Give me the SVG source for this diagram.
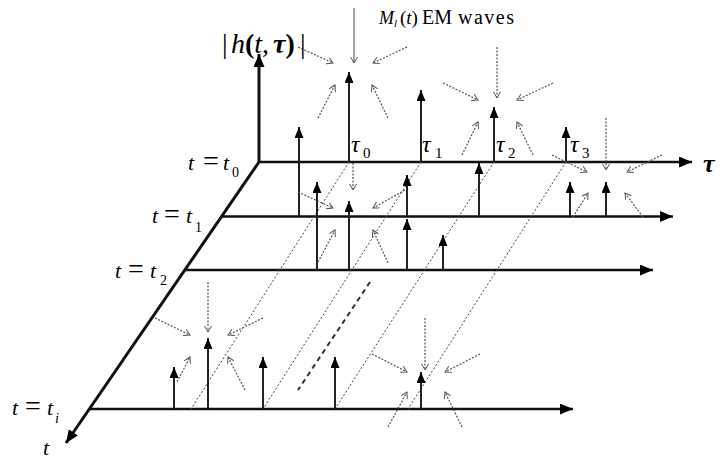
<svg xmlns="http://www.w3.org/2000/svg" width="720" height="460" viewBox="0 0 720 460">
<style>
.ax{stroke:#111;stroke-width:3;fill:none}
.pl{stroke:#111;stroke-width:2.5;fill:none}
.st{stroke:#222;stroke-width:2;fill:none}
.dg{stroke:#444;stroke-width:1;stroke-dasharray:2 2;fill:none}
.em{stroke:#555;stroke-width:1.2;stroke-dasharray:2 1.5;fill:none}
.ems{stroke:#555;stroke-width:1.1;fill:none}
.dash{stroke:#333;stroke-width:2;stroke-dasharray:5 4;fill:none}
text{font-family:"Liberation Serif","Times New Roman",serif;fill:#000}
.it{font-style:italic}
</style>
<defs>
<marker id="head" markerUnits="userSpaceOnUse" markerWidth="12" markerHeight="10" refX="11" refY="4.5" orient="auto"><path d="M0,0 L11,4.5 L0,9 z" fill="#000"/></marker>
<marker id="big" markerUnits="userSpaceOnUse" markerWidth="14" markerHeight="12" refX="13" refY="5.5" orient="auto"><path d="M0,0 L13,5.5 L0,11 z" fill="#000"/></marker>
<marker id="open" markerUnits="userSpaceOnUse" markerWidth="8" markerHeight="8" refX="6" refY="3.5" orient="auto"><path d="M0,0 L6,3.5 L0,7" fill="none" stroke="#555" stroke-width="1"/></marker>
</defs>
<rect width="720" height="460" fill="#fff"/>

<g id="axes">
<line class="ax" x1="259" y1="163" x2="259" y2="54" marker-end="url(#big)"/>
<line class="ax" x1="259" y1="162" x2="66" y2="443" marker-end="url(#big)"/>
<line class="pl" x1="258" y1="162" x2="692" y2="162" marker-end="url(#big)"/>
<line class="pl" x1="221" y1="216.5" x2="673" y2="216.5" marker-end="url(#big)"/>
<line class="pl" x1="185" y1="270" x2="653" y2="270" marker-end="url(#big)"/>
<line class="pl" x1="90" y1="409" x2="573" y2="409" marker-end="url(#big)"/>
</g>

<g id="delay-lines">
<line class="dg" x1="349" y1="162" x2="191" y2="409"/>
<line class="dg" x1="421" y1="162" x2="263" y2="409"/>
<line class="dg" x1="494" y1="162" x2="335" y2="409"/>
<line class="dg" x1="566" y1="162" x2="408" y2="409"/>
<line class="dash" x1="370" y1="282" x2="298" y2="390"/>
</g>

<g id="stems">
<line class="st" x1="349" y1="162" x2="349" y2="72" marker-end="url(#head)"/>
<line class="st" x1="421" y1="162" x2="421" y2="90" marker-end="url(#head)"/>
<line class="st" x1="494" y1="162" x2="494" y2="107" marker-end="url(#head)"/>
<line class="st" x1="566" y1="162" x2="566" y2="127" marker-end="url(#head)"/>
<line class="st" x1="299" y1="216" x2="299" y2="127" marker-end="url(#head)"/>
<line class="st" x1="479" y1="216" x2="479" y2="163" marker-end="url(#head)"/>
<line class="st" x1="407" y1="216" x2="407" y2="175" marker-end="url(#head)"/>
<line class="st" x1="570" y1="216" x2="570" y2="182" marker-end="url(#head)"/>
<line class="st" x1="606" y1="216" x2="606" y2="182" marker-end="url(#head)"/>
<line class="st" x1="317" y1="270" x2="317" y2="182" marker-end="url(#head)"/>
<line class="st" x1="349" y1="270" x2="349" y2="201" marker-end="url(#head)"/>
<line class="st" x1="407" y1="270" x2="407" y2="219" marker-end="url(#head)"/>
<line class="st" x1="443" y1="270" x2="443" y2="235" marker-end="url(#head)"/>
<line class="st" x1="174" y1="409" x2="174" y2="367" marker-end="url(#head)"/>
<line class="st" x1="208" y1="409" x2="208" y2="338" marker-end="url(#head)"/>
<line class="st" x1="263" y1="409" x2="263" y2="357" marker-end="url(#head)"/>
<line class="st" x1="335" y1="409" x2="335" y2="357" marker-end="url(#head)"/>
<line class="st" x1="421" y1="409" x2="421" y2="372" marker-end="url(#head)"/>
</g>

<g id="waves-a">
<line class="ems" x1="354" y1="8" x2="354" y2="63" marker-end="url(#open)"/>
<line class="em" x1="298" y1="47" x2="333" y2="63" marker-end="url(#open)"/>
<line class="em" x1="407" y1="47" x2="373" y2="63" marker-end="url(#open)"/>
<line class="em" x1="318" y1="118" x2="335" y2="85" marker-end="url(#open)"/>
<line class="em" x1="388" y1="118" x2="372" y2="85" marker-end="url(#open)"/>
</g>
<g id="waves-b">
<line class="em" x1="497" y1="47" x2="497" y2="98" marker-end="url(#open)"/>
<line class="em" x1="443" y1="83" x2="478" y2="100" marker-end="url(#open)"/>
<line class="em" x1="553" y1="83" x2="517" y2="100" marker-end="url(#open)"/>
<line class="em" x1="462" y1="155" x2="478" y2="122" marker-end="url(#open)"/>
<line class="em" x1="533" y1="155" x2="517" y2="122" marker-end="url(#open)"/>
</g>
<g id="waves-c">
<line class="em" x1="606" y1="118" x2="606" y2="170" marker-end="url(#open)"/>
<line class="em" x1="552" y1="155" x2="587" y2="172" marker-end="url(#open)"/>
<line class="em" x1="662" y1="155" x2="627" y2="172" marker-end="url(#open)"/>
<line class="em" x1="573" y1="217" x2="588" y2="193" marker-end="url(#open)"/>
<line class="em" x1="643" y1="217" x2="625" y2="193" marker-end="url(#open)"/>
</g>
<g id="waves-d">
<line class="em" x1="353" y1="163" x2="353" y2="190" marker-end="url(#open)"/>
<line class="em" x1="298" y1="192" x2="333" y2="208" marker-end="url(#open)"/>
<line class="em" x1="405" y1="190" x2="373" y2="208" marker-end="url(#open)"/>
<line class="em" x1="318" y1="262" x2="335" y2="230" marker-end="url(#open)"/>
<line class="em" x1="388" y1="263" x2="373" y2="230" marker-end="url(#open)"/>
</g>
<g id="waves-e">
<line class="em" x1="208" y1="282" x2="208" y2="332" marker-end="url(#open)"/>
<line class="em" x1="155" y1="318" x2="190" y2="335" marker-end="url(#open)"/>
<line class="em" x1="263" y1="318" x2="228" y2="335" marker-end="url(#open)"/>
<line class="em" x1="177" y1="382" x2="190" y2="357" marker-end="url(#open)"/>
<line class="em" x1="245" y1="390" x2="228" y2="357" marker-end="url(#open)"/>
</g>
<g id="waves-f">
<line class="em" x1="425" y1="318" x2="425" y2="370" marker-end="url(#open)"/>
<line class="em" x1="372" y1="354" x2="407" y2="372" marker-end="url(#open)"/>
<line class="em" x1="480" y1="354" x2="445" y2="372" marker-end="url(#open)"/>
<line class="em" x1="388" y1="427" x2="407" y2="392" marker-end="url(#open)"/>
<line class="em" x1="462" y1="427" x2="445" y2="392" marker-end="url(#open)"/>
</g>

<g id="labels">
<text x="222" y="53" font-size="28">|<tspan x="231" class="it">h</tspan><tspan font-weight="bold">(</tspan><tspan class="it">t</tspan>,<tspan x="273" class="it" font-weight="bold">τ</tspan><tspan font-weight="bold">)</tspan><tspan x="300">|</tspan></text>
<text x="379" y="24" font-size="18" class="it">M</text>
<text x="394" y="27" font-size="11" class="it">l</text>
<text x="400" y="24" font-size="19">(<tspan class="it">t</tspan>)</text>
<text x="422" y="24" font-size="20">EM</text>
<text x="458" y="24" font-size="20" letter-spacing="1.5">waves</text>

<text x="351" y="152" font-size="24" class="it">τ</text><text x="363" y="158" font-size="15">0</text>
<text x="422" y="152" font-size="24" class="it">τ</text><text x="435" y="158" font-size="15">1</text>
<text x="496" y="152" font-size="24" class="it">τ</text><text x="508" y="158" font-size="15">2</text>
<text x="570" y="152" font-size="24" class="it">τ</text><text x="582" y="158" font-size="15">3</text>
<text x="703" y="172" font-size="26" class="it" font-weight="bold">τ</text>

<text y="170" font-size="22"><tspan x="188" class="it">t</tspan><tspan x="203" font-size="28">=</tspan><tspan x="223" class="it">t</tspan></text><text x="232" y="177" font-size="14">0</text>
<text y="223" font-size="22"><tspan x="152" class="it">t</tspan><tspan x="164" font-size="28">=</tspan><tspan x="186" class="it">t</tspan></text><text x="195" y="232" font-size="14">1</text>
<text y="278" font-size="22"><tspan x="115" class="it">t</tspan><tspan x="128" font-size="28">=</tspan><tspan x="150" class="it">t</tspan></text><text x="160" y="285" font-size="14">2</text>
<text y="415" font-size="22"><tspan x="12" class="it">t</tspan><tspan x="25" font-size="28">=</tspan><tspan x="47" class="it">t</tspan></text><text x="55" y="423" font-size="14" class="it">i</text>
<text x="43" y="455" font-size="22" class="it">t</text>
</g>
</svg>
